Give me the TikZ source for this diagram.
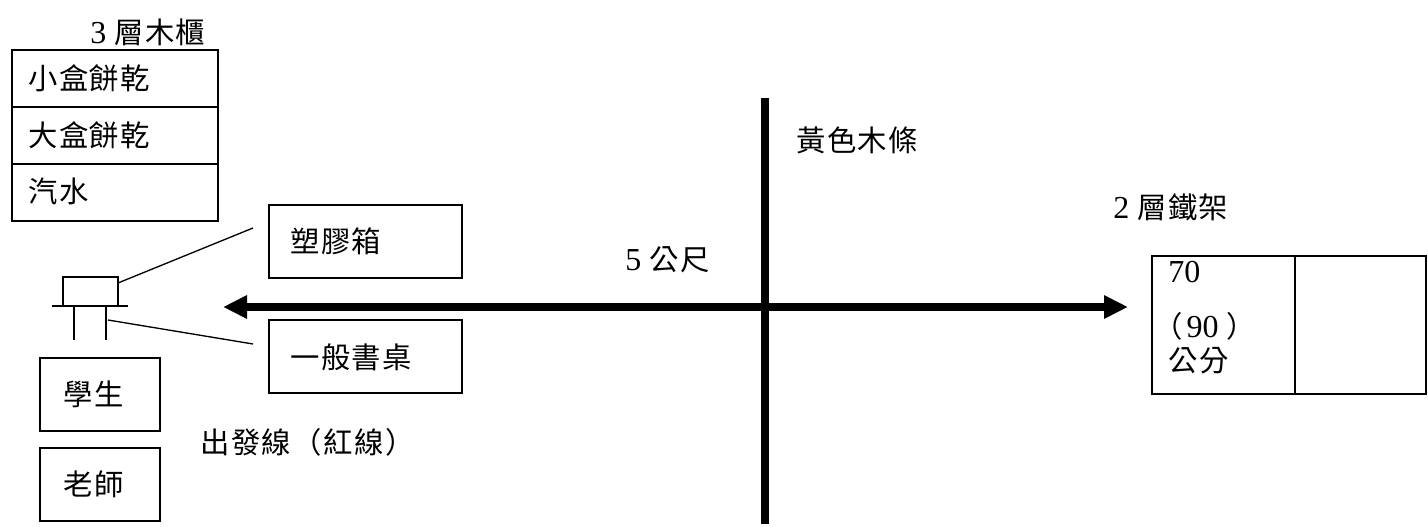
\documentclass[tikz,border=0pt]{standalone}
\usepackage{fontspec}
\setmainfont{Liberation Serif}
\newfontfamily\cjk[LetterSpace=5]{Noto Sans CJK TC}
\newcommand{\latd}[1]{{\fontsize{24}{26}\selectfont\rmfamily #1}}
\usetikzlibrary{arrows.meta}
\begin{document}
\begin{tikzpicture}[x=0.75pt,y=-0.75pt,
  box/.style={draw, line width=1.5pt, inner sep=0pt},
  lbl/.style={font=\fontsize{22}{26}\selectfont\cjk, inner sep=0pt, anchor=west},
  conn/.style={line width=1pt},
  bar/.style={line width=6pt}]
\useasboundingbox (0,0) rectangle (1428,527);

% cabinet
\node[box, minimum width=154.5pt, minimum height=128.25pt] (cab) at (115,135.5) {};
\draw[line width=1.5pt] (12,107) -- (218,107) (12,164) -- (218,164);
\node[lbl] (cabt) at (90,32) {\latd{3} 層木櫃};
\node[lbl] (c1) at (28,78) {小盒餅乾};
\node[lbl] (c2) at (28,135) {大盒餅乾};
\node[lbl] (c3) at (28,191) {汽水};

% table
\node[box, minimum width=41.25pt, minimum height=21.75pt] (top) at (90.5,291.5) {};
\draw[line width=1.5pt] (52,306) -- (128,306);
\draw[line width=1.5pt] (74,306) -- (74,340) (106,306) -- (106,340);
\coordinate (tp) at (118,283);
\coordinate (lg) at (108,320);
\coordinate (e1) at (253,228);
\coordinate (e2) at (253,344);
\draw[conn] (tp) -- (e1);
\draw[conn] (lg) -- (e2);

% boxes
\node[box, minimum width=144.75pt, minimum height=54.75pt] (plastic) at (365.5,241.5) {};
\node[lbl] (plt) at (290,241) {塑膠箱};
\node[box, minimum width=144.75pt, minimum height=54.75pt] (desk) at (365.5,356.5) {};
\node[lbl] (dkt) at (290,357) {一般書桌};
\node[box, minimum width=90pt, minimum height=54.75pt] (stu) at (100,394.5) {};
\node[lbl] (stt) at (63,394) {學生};
\node[box, minimum width=90pt, minimum height=54.75pt] (tea) at (100,484.5) {};
\node[lbl] (tet) at (63,484) {老師};
\node[lbl] (start) at (200,442) {出發線（紅線）};

% axes
\coordinate (al) at (223,307);
\coordinate (ar) at (1128,307);
\draw[bar, {Triangle[length=18pt,width=16.5pt]}-{Triangle[length=18pt,width=16.5pt]}] (al) -- (ar);
\coordinate (vt) at (765,98);
\coordinate (vb) at (765,524);
\draw[bar] (vt) -- (vb);
\node[lbl] (yel) at (796,140) {黃色木條};
\node[lbl] (five) at (625,260) {\latd{5} 公尺};

% iron shelf
\node[lbl] (shelf) at (1113,207) {\latd{2} 層鐵架};
\node[box, minimum width=205.5pt, minimum height=103.5pt] (rack) at (1289,325) {};
\draw[line width=1.5pt] (1295,256) -- (1295,394);
\node[lbl] (r1) at (1168,272) {\latd{70}};
\node[lbl] (r2) at (1153,326) {（\hspace{3pt}\latd{90}\hspace{6pt}）};
\node[lbl] (r3) at (1168,361) {公分};
\end{tikzpicture}
\end{document}
